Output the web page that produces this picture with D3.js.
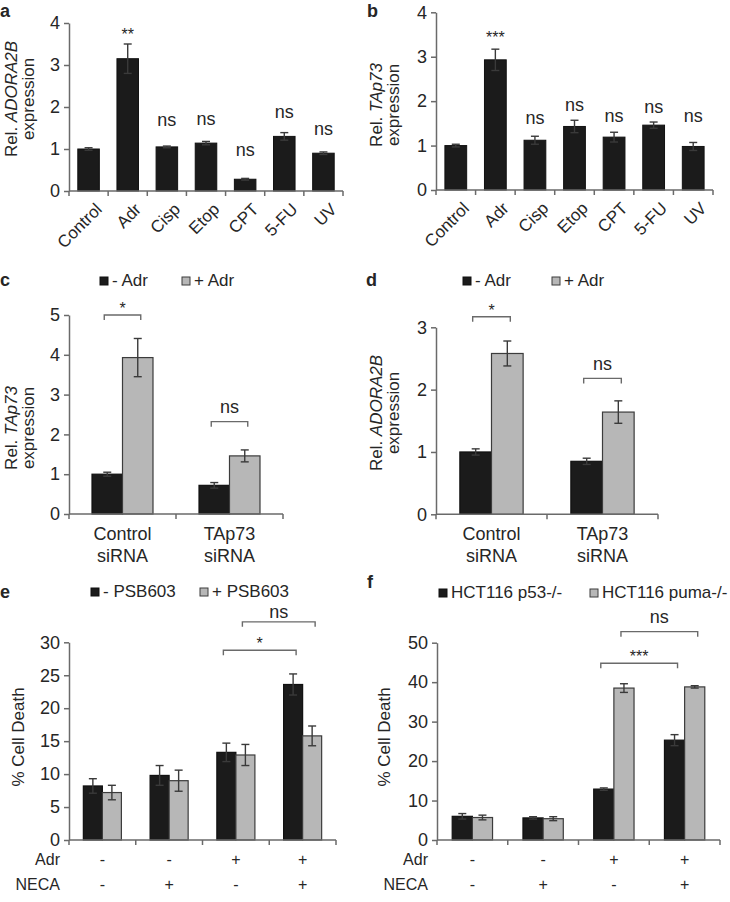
<!DOCTYPE html>
<html><head><meta charset="utf-8">
<script src="https://cdn.jsdelivr.net/npm/d3@7"></script>
<style>
body{margin:0;background:#fff}
svg{display:block}
text{font-family:"Liberation Sans",Arial,Helvetica,sans-serif;fill:#262626}
</style>
</head><body>
<script>
// ---------- DATA ----------
// Panel a
const catsA = ["Control","Adr","Cisp","Etop","CPT","5-FU","UV"];
const valsA = [1.0,3.15,1.05,1.14,0.28,1.30,0.90];
const errA  = [0.03,0.35,0.02,0.04,0.02,0.09,0.03];
const sigA  = ["","**","ns","ns","ns","ns","ns"];
const sigYA = [0,3.6,1.55,1.56,0.83,1.75,1.33];
const ticksA = [0,1,2,3,4];
// Panel b
const catsB = ["Control","Adr","Cisp","Etop","CPT","5-FU","UV"];
const valsB = [1.0,2.93,1.12,1.43,1.19,1.46,0.98];
const errB  = [0.03,0.24,0.09,0.14,0.11,0.07,0.09];
const sigB  = ["","***","ns","ns","ns","ns","ns"];
const sigYB = [0,3.31,1.49,1.78,1.52,1.73,1.52];
const ticksB = [0,1,2,3,4];
// Panels c, d
const groupsCD = [["Control","siRNA"],["TAp73","siRNA"]];
const seriesCD = ["- Adr","+ Adr"];
const blackC = [1.0,0.72], blackErrC = [0.05,0.07];
const grayC  = [3.93,1.46], grayErrC  = [0.48,0.15];
const ticksC = [0,1,2,3,4,5];
const bracketLabelsC = ["*","ns"], bracketYC = [5.0,2.32];
const blackD = [1.0,0.85], blackErrD = [0.05,0.05];
const grayD  = [2.58,1.64], grayErrD  = [0.20,0.18];
const ticksD = [0,1,2,3];
const bracketLabelsD = ["*","ns"], bracketYD = [3.17,2.18];
// Panels e, f
const adrRow  = ["-","-","+","+"];
const necaRow = ["-","+","-","+"];
const seriesE = ["- PSB603","+ PSB603"];
const blackE = [8.2,9.8,13.3,23.6], blackErrE = [1.1,1.5,1.4,1.6];
const grayE  = [7.2,9.0,12.9,15.8], grayErrE  = [1.1,1.6,1.6,1.5];
const ticksE = [0,5,10,15,20,25,30];
const bracketLabelsE = ["*","ns"], bracketYE = [28.8,33.1];
const seriesF = ["HCT116 p53-/-","HCT116 puma-/-"];
const blackF = [6.0,5.6,12.9,25.3], blackErrF = [0.7,0.3,0.3,1.4];
const grayF  = [5.7,5.4,38.5,38.8], grayErrF  = [0.6,0.5,1.1,0.3];
const ticksF = [0,10,20,30,40,50];
const bracketLabelsF = ["***","ns"], bracketYF = [44.8,52.8];

// ---------- STYLE ----------
const BLACK="#1b1b1b", GRAY="#b7b7b7", EDGE="#3c3c3c", AXIS="#6a6a6a", ERR="#3a3a3a";
const FS=17;

const svg = d3.select("body").append("svg").attr("width",730).attr("height",902);

function panelLetter(t,x,y){
  svg.append("text").attr("x",x).attr("y",y).attr("font-size",18).attr("font-weight","bold").attr("fill","#111").text(t);
}
function yAxis(g,y,ticks,x0){
  const ax = g.append("g").attr("transform",`translate(${x0},0)`)
    .call(d3.axisLeft(y).tickValues(ticks).tickFormat(d3.format("d")).tickSize(5).tickSizeOuter(0).tickPadding(4));
  ax.select(".domain").attr("stroke",AXIS).attr("stroke-width",1.5);
  ax.selectAll(".tick line").attr("stroke",AXIS).attr("stroke-width",1.5);
  ax.selectAll(".tick text").attr("font-size",FS+1).attr("fill","#262626")
    .attr("font-family","Liberation Sans, Arial, sans-serif");
}
function xAxisEdges(g,x,y0){
  const r = x.range();
  g.append("line").attr("x1",r[0]).attr("x2",r[1]).attr("y1",y0).attr("y2",y0)
    .attr("stroke",AXIS).attr("stroke-width",1.5);
  const edges = x.domain().map(d=>x(d)).concat([r[1]]);
  g.selectAll(null).data(edges).enter().append("line")
    .attr("x1",d=>d).attr("x2",d=>d).attr("y1",y0).attr("y2",y0+5)
    .attr("stroke",AXIS).attr("stroke-width",1.5);
}
function yLabel(g,lines,x,yc){
  lines.forEach((ln,i)=>{
    const t = g.append("text").attr("transform",`translate(${x[i]},${yc}) rotate(-90)`)
      .attr("text-anchor","middle").attr("font-size",FS);
    ln.forEach(part=>{
      t.append("tspan").attr("font-style",part[1]?"italic":"normal").text(part[0]);
    });
  });
}
function errBar(g,cx,y,v,e,cap){
  g.append("line").attr("x1",cx).attr("x2",cx).attr("y1",y(v-e)).attr("y2",y(v+e)).attr("stroke",ERR).attr("stroke-width",1.4);
  [v+e,v-e].forEach(t=>g.append("line").attr("x1",cx-cap/2).attr("x2",cx+cap/2).attr("y1",y(t)).attr("y2",y(t)).attr("stroke",ERR).attr("stroke-width",1.4));
}

// ---------- simple panels a, b ----------
function simplePanel(cfg){
  const g = svg.append("g");
  const x = d3.scaleBand().domain(cfg.cats).range([cfg.x0,cfg.x1]).padding(0);
  const y = d3.scaleLinear().domain([0,cfg.ymax]).range([cfg.y0,cfg.ytop]);
  const bw = x.bandwidth()*0.55;
  cfg.cats.forEach((c,i)=>{
    const cx = x(c)+x.bandwidth()/2;
    g.append("rect").attr("x",cx-bw/2).attr("y",y(cfg.vals[i])).attr("width",bw)
      .attr("height",y(0)-y(cfg.vals[i])).attr("fill",BLACK).attr("stroke","#111").attr("stroke-width",1);
    errBar(g,cx,y,cfg.vals[i],cfg.errs[i],8);
    if(cfg.sig[i]){
      g.append("text").attr("x",cx).attr("y",y(cfg.sigY[i])).attr("text-anchor","middle")
        .attr("font-size",cfg.sig[i].indexOf("*")>=0?FS-1:FS+1).text(cfg.sig[i]);
    }
    g.append("text").attr("transform",`translate(${cx+6},${cfg.y0+11}) rotate(-45)`)
      .attr("text-anchor","end").attr("font-size",FS).attr("dy","0.7em").text(c);
  });
  yAxis(g,y,cfg.ticks,cfg.x0);
  xAxisEdges(g,x,cfg.y0);
  yLabel(g,cfg.ylab,cfg.ylabX,cfg.ylabY);
}

simplePanel({cats:catsA,vals:valsA,errs:errA,sig:sigA,sigY:sigYA,ticks:ticksA,ymax:4,
  x0:69,x1:343,y0:191,ytop:23,
  ylab:[[["Rel. ",false],["ADORA2B",true]],[["expression",false]]],ylabX:[17,34],ylabY:99});
simplePanel({cats:catsB,vals:valsB,errs:errB,sig:sigB,sigY:sigYB,ticks:ticksB,ymax:4,
  x0:436,x1:713,y0:190,ytop:12.3,
  ylab:[[["Rel. ",false],["TAp73",true]],[["expression",false]]],ylabX:[382,399],ylabY:105});

// ---------- grouped panels ----------
function groupedPanel(cfg){
  const g = svg.append("g");
  const gi = d3.range(cfg.nGroups);
  const x = d3.scaleBand().domain(gi).range([cfg.x0,cfg.x1]).padding(0);
  const xs = d3.scaleBand().domain([0,1]).range([x.bandwidth()*0.215,x.bandwidth()*0.785]).padding(0);
  const y = d3.scaleLinear().domain([0,cfg.ymax]).range([cfg.y0,cfg.ytop]);
  const ser = [{v:cfg.black,e:cfg.blackErr,fill:BLACK,stroke:"#111"},{v:cfg.gray,e:cfg.grayErr,fill:GRAY,stroke:EDGE}];
  const cxOf = (gIdx,s)=> x(gIdx)+xs(s)+xs.bandwidth()/2;
  ser.forEach((s,si)=>{
    gi.forEach(k=>{
      g.append("rect").attr("x",x(k)+xs(si)).attr("y",y(s.v[k])).attr("width",xs.bandwidth())
        .attr("height",y(0)-y(s.v[k])).attr("fill",s.fill).attr("stroke",s.stroke).attr("stroke-width",1.2);
    });
  });
  ser.forEach((s,si)=>gi.forEach(k=>errBar(g,cxOf(k,si),y,s.v[k],s.e[k],8)));
  yAxis(g,y,cfg.ticks,cfg.x0);
  xAxisEdges(g,x,cfg.y0);
  yLabel(g,cfg.ylab,cfg.ylabX,cfg.ylabY);
  // brackets
  cfg.brackets.forEach(b=>{
    const xa = cxOf(b[0],b[1])-3, xb = cxOf(b[2],b[3])+3, yy = y(b[4]);
    g.append("path").attr("d",`M${xa},${yy+5}V${yy}H${xb}V${yy+5}`).attr("fill","none")
      .attr("stroke",AXIS).attr("stroke-width",1.4);
    const isStar = b[5].indexOf("*")>=0;
    g.append("text").attr("x",(xa+xb)/2).attr("y",yy-(isStar?1:cfg.nsGap)).attr("text-anchor","middle")
      .attr("font-size",isStar?FS-1:FS+1).text(b[5]);
  });
  // legend
  cfg.series.forEach((name,si)=>{
    g.append("rect").attr("x",cfg.legX[si]).attr("y",cfg.legY-9).attr("width",8).attr("height",8)
      .attr("fill",si?GRAY:BLACK).attr("stroke",si?EDGE:"#111").attr("stroke-width",1);
    g.append("text").attr("x",cfg.legX[si]+12).attr("y",cfg.legY).attr("font-size",FS).text(name);
  });
  // category labels
  if(cfg.groupLines){
    cfg.groupLines.forEach((lines,k)=>{
      lines.forEach((ln,j)=>g.append("text").attr("x",x(k)+x.bandwidth()/2).attr("y",cfg.y0+26+j*22)
        .attr("text-anchor","middle").attr("font-size",FS+1).text(ln));
    });
  }
  if(cfg.rows){
    cfg.rows.forEach((row,j)=>{
      const yy = cfg.y0+25+j*25;
      g.append("text").attr("x",cfg.x0-9).attr("y",yy).attr("text-anchor","end").attr("font-size",FS-1).text(row[0]);
      row[1].forEach((s,k)=>g.append("text").attr("x",x(k)+x.bandwidth()/2).attr("y",yy)
        .attr("text-anchor","middle").attr("font-size",FS-1).text(s));
    });
  }
}

groupedPanel({nGroups:2,black:blackC,blackErr:blackErrC,gray:grayC,grayErr:grayErrC,ticks:ticksC,ymax:5,
  x0:69,x1:283,y0:514,ytop:315,nsGap:9,
  ylab:[[["Rel. ",false],["TAp73",true]],[["expression",false]]],ylabX:[17,34],ylabY:428,
  brackets:[[0,0,0,1,bracketYC[0],bracketLabelsC[0]],[1,0,1,1,bracketYC[1],bracketLabelsC[1]]],
  series:seriesCD,legX:[100,182],legY:286,groupLines:groupsCD});
groupedPanel({nGroups:2,black:blackD,blackErr:blackErrD,gray:grayD,grayErr:grayErrD,ticks:ticksD,ymax:3,
  x0:436,x1:658,y0:514.3,ytop:327.3,nsGap:8,
  ylab:[[["Rel. ",false],["ADORA2B",true]],[["expression",false]]],ylabX:[382,399],ylabY:413,
  brackets:[[0,0,0,1,bracketYD[0],bracketLabelsD[0]],[1,0,1,1,bracketYD[1],bracketLabelsD[1]]],
  series:seriesCD,legX:[463,552],legY:286,groupLines:groupsCD});
groupedPanel({nGroups:4,black:blackE,blackErr:blackErrE,gray:grayE,grayErr:grayErrE,ticks:ticksE,ymax:30,
  x0:69,x1:336,y0:840,ytop:642.3,nsGap:4,
  ylab:[[["% Cell Death",false]]],ylabX:[24],ylabY:737,
  brackets:[[2,0,3,0,bracketYE[0],bracketLabelsE[0]],[2,1,3,1,bracketYE[1],bracketLabelsE[1]]],
  series:seriesE,legX:[91,200],legY:597,rows:[["Adr",adrRow],["NECA",necaRow]]});
groupedPanel({nGroups:4,black:blackF,blackErr:blackErrF,gray:grayF,grayErr:grayErrF,ticks:ticksF,ymax:50,
  x0:437,x1:720,y0:840,ytop:642.7,nsGap:9,
  ylab:[[["% Cell Death",false]]],ylabX:[390],ylabY:737,
  brackets:[[2,0,3,0,bracketYF[0],bracketLabelsF[0]],[2,1,3,1,bracketYF[1],bracketLabelsF[1]]],
  series:seriesF,legX:[439,590],legY:598,rows:[["Adr",adrRow],["NECA",necaRow]]});

panelLetter("a",0,17);
panelLetter("b",367,17);
panelLetter("c",0,286);
panelLetter("d",366,286);
panelLetter("e",0,598);
panelLetter("f",367,588);
</script>
</body></html>
